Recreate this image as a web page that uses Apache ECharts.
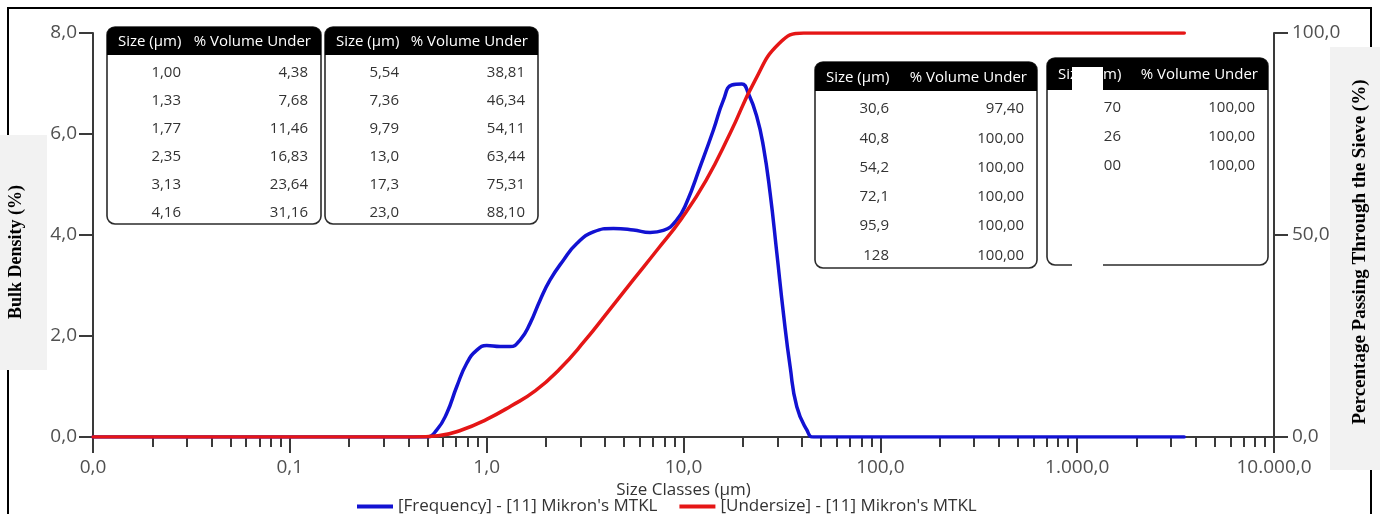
<!DOCTYPE html>
<html>
<head>
<meta charset="utf-8">
<script src="https://cdn.jsdelivr.net/npm/echarts@6/dist/echarts.min.js"></script>
<style>
  html, body { margin: 0; padding: 0; background: #fff; }
  #chart { width: 1380px; height: 514px; }
</style>
</head>
<body>
<div id="chart"></div>
<script>
// Size classes (µm) and cumulative % volume under, as listed in the result tables
const tableSizes = [1.00, 1.33, 1.77, 2.35, 3.13, 4.16, 5.54, 7.36, 9.79, 13.0, 17.3, 23.0,
                    30.6, 40.8, 54.2, 72.1, 95.9, 128, 170, 226, 300];
const tableUnder = [4.38, 7.68, 11.46, 16.83, 23.64, 31.16, 38.81, 46.34, 54.11, 63.44, 75.31, 88.10,
                    97.40, 100, 100, 100, 100, 100, 100, 100, 100];

// Undersize curve below the first tabulated class and at the top of the range
const undersizeLowSizes = [0.01, 0.425, 0.566, 0.752];
const undersizeLowValues = [0, 0, 0.3, 1.8];
const undersizeEndSizes = [3500];
const undersizeEndValues = [100];

// Frequency curve (bulk density, %)
const freqSizes = [0.01, 0.45, 0.496, 0.558, 0.627, 0.705, 0.792, 0.891, 1.00, 1.17,
                   1.315, 1.478, 1.662, 1.868, 2.10, 2.453, 2.870, 3.485, 4.404, 5.566,
                   6.766, 7.905, 9.246, 10.39, 12.14, 14.19, 15.95, 17.60, 19.78, 21.37,
                   23.58, 25.47, 27.54, 29.80, 32.18, 34.82, 37.64, 42.32, 45.73, 3500];
const freqValues = [0, 0, 0, 0.14, 0.47, 1.00, 1.46, 1.72, 1.81, 1.79,
                    1.79, 1.92, 2.25, 2.71, 3.11, 3.50, 3.83, 4.06, 4.13, 4.10,
                    4.05, 4.09, 4.30, 4.65, 5.35, 6.08, 6.67, 6.97, 6.99, 6.80,
                    6.34, 5.75, 4.83, 3.64, 2.45, 1.39, 0.60, 0.14, 0, 0];

// Axis ticks
const xMajorTicks = [0.01, 0.1, 1, 10, 100, 1000, 10000];
const xMinorSteps = [2, 3, 4, 5, 6, 7, 8, 9];
const leftTicks = [0, 2, 4, 6, 8];
const rightTicks = [0, 50, 100];

const seriesNames = ["[Frequency] - [11] Mikron's MTKL", "[Undersize] - [11] Mikron's MTKL"];
const sizeHeader = 'Size (µm)';
const underHeader = '% Volume Under';

const FONT = '"Open Sans", "Noto Sans", sans-serif';
const SERIF = '"Liberation Serif", "DejaVu Serif", serif';
const AXIS_COLOR = '#3a3a3a';
const LABEL_COLOR = '#505050';
const TABLE_FONT = '15px ' + FONT;

// number formatting with decimal comma and dot thousands separator
function fmtNum(v, dec) {
  const s = Math.abs(v).toFixed(dec);
  let [ip, fp] = s.split('.');
  ip = ip.replace(/\B(?=(\d{3})+(?!\d))/g, '.');
  return (v < 0 ? '-' : '') + ip + (fp !== undefined ? ',' + fp : '');
}
const fmtSize = v => v.toPrecision(3).replace('.', ',');

const xMinorTicks = [];
xMajorTicks.slice(0, -1).forEach(d => xMinorSteps.forEach(k => xMinorTicks.push(+(d * k).toPrecision(6))));

const freqData = freqSizes.map((s, i) => [s, freqValues[i]]);
const undersizeData = []
  .concat(undersizeLowSizes.map((s, i) => [s, undersizeLowValues[i]]))
  .concat(tableSizes.map((s, i) => [s, tableUnder[i]]))
  .concat(undersizeEndSizes.map((s, i) => [s, undersizeEndValues[i]]));

// Result table drawn as a group of graphic elements
function table(x, y, w, h, headH, rowY0, rowStep, sizes, values) {
  const children = [
    { type: 'rect', shape: { x: 0, y: 0, width: w, height: h, r: 8 },
      style: { fill: '#fff', stroke: '#2b2b2b', lineWidth: 1.6 } },
    { type: 'rect', shape: { x: 0, y: 0, width: w, height: headH, r: [8, 8, 0, 0] },
      style: { fill: '#000' } },
    { type: 'text', style: { x: 11, y: headH / 2 + 1, text: sizeHeader, fill: '#fff',
      font: TABLE_FONT, align: 'left', verticalAlign: 'middle' } },
    { type: 'text', style: { x: w - 10, y: headH / 2 + 1, text: underHeader, fill: '#fff',
      font: TABLE_FONT, align: 'right', verticalAlign: 'middle' } }
  ];
  sizes.forEach((s, i) => {
    const yy = rowY0 + i * rowStep;
    children.push({ type: 'text', style: { x: 74, y: yy, text: fmtSize(s), fill: '#333',
      font: TABLE_FONT, align: 'right', verticalAlign: 'middle' } });
    children.push({ type: 'text', style: { x: w - 13, y: yy, text: fmtNum(values[i], 2), fill: '#333',
      font: TABLE_FONT, align: 'right', verticalAlign: 'middle' } });
  });
  return { type: 'group', x: x, y: y, z: 100, children: children };
}

const chart = echarts.init(document.getElementById('chart'), null, { renderer: 'canvas' });

const axisLine = { show: true, lineStyle: { color: AXIS_COLOR, width: 2 } };
const tickLabel = { fontSize: 19, color: LABEL_COLOR, fontFamily: FONT, formatter: v => fmtNum(v, 1) };

chart.setOption({
  animation: false,
  backgroundColor: '#fff',
  textStyle: { fontFamily: FONT },
  grid: { left: 93, right: 106, top: 33, bottom: 77, containLabel: false },
  legend: {
    data: seriesNames,
    left: 352, top: 493,
    icon: 'rect', itemWidth: 36, itemHeight: 4, itemGap: 22,
    textStyle: { fontSize: 17, color: '#333', fontFamily: FONT }
  },
  xAxis: [
    {
      type: 'log', logBase: 10, min: 0.01, max: 10000, position: 'bottom',
      axisLine: axisLine,
      axisTick: { show: true, inside: false, length: 16, customValues: xMajorTicks,
                  lineStyle: { color: AXIS_COLOR, width: 2 } },
      axisLabel: Object.assign({ customValues: xMajorTicks, margin: 21 }, tickLabel),
      splitLine: { show: false }, minorTick: { show: false },
      name: 'Size Classes (µm)', nameLocation: 'middle', nameGap: 37,
      nameTextStyle: { fontSize: 17, color: '#333', fontFamily: FONT }
    },
    {
      type: 'log', logBase: 10, min: 0.01, max: 10000, position: 'bottom',
      axisLine: { show: false },
      axisTick: { show: true, inside: false, length: 10, customValues: xMinorTicks,
                  lineStyle: { color: AXIS_COLOR, width: 2 } },
      axisLabel: { show: false },
      splitLine: { show: false }
    }
  ],
  yAxis: [
    {
      type: 'value', min: 0, max: 8, position: 'left',
      axisLine: axisLine,
      axisTick: { show: true, inside: false, length: 14, customValues: leftTicks,
                  lineStyle: { color: AXIS_COLOR, width: 2 } },
      axisLabel: Object.assign({ customValues: leftTicks, margin: 16 }, tickLabel),
      splitLine: { show: false }
    },
    {
      type: 'value', min: 0, max: 100, position: 'right',
      axisLine: axisLine,
      axisTick: { show: true, inside: false, length: 14, customValues: rightTicks,
                  lineStyle: { color: AXIS_COLOR, width: 2 } },
      axisLabel: Object.assign({ customValues: rightTicks, margin: 18 }, tickLabel),
      splitLine: { show: false }
    }
  ],
  series: [
    {
      name: seriesNames[0], type: 'line', xAxisIndex: 0, yAxisIndex: 0,
      data: freqData, smooth: 0.5, showSymbol: false, symbol: 'none',
      color: '#1212d2',
      lineStyle: { color: '#1212d2', width: 3.5, cap: 'round', join: 'round' },
      z: 3
    },
    {
      name: seriesNames[1], type: 'line', xAxisIndex: 0, yAxisIndex: 1,
      data: undersizeData, smooth: 0.5, showSymbol: false, symbol: 'none',
      color: '#e51616',
      lineStyle: { color: '#e51616', width: 3.5, cap: 'round', join: 'round' },
      z: 4
    }
  ],
  graphic: { elements: [
    // outer frame
    { type: 'line', z: 50, shape: { x1: 7, y1: 8, x2: 1372, y2: 8 }, style: { stroke: '#000', lineWidth: 2 } },
    { type: 'line', z: 50, shape: { x1: 8, y1: 8, x2: 8, y2: 514 }, style: { stroke: '#000', lineWidth: 2 } },
    { type: 'line', z: 50, shape: { x1: 1371, y1: 8, x2: 1371, y2: 514 }, style: { stroke: '#000', lineWidth: 2 } },
    // axis title panels
    { type: 'rect', z: 60, shape: { x: 0, y: 135, width: 47, height: 235 }, style: { fill: '#f2f2f2' } },
    { type: 'rect', z: 60, shape: { x: 1330, y: 47, width: 50, height: 423 }, style: { fill: '#f2f2f2' } },
    { type: 'text', z: 61, x: 16, y: 252, rotation: Math.PI / 2,
      style: { x: 0, y: 0, text: 'Bulk Density (%)', fill: '#000', font: 'bold 18px ' + SERIF,
               align: 'center', verticalAlign: 'middle' } },
    { type: 'text', z: 61, x: 1360, y: 252, rotation: Math.PI / 2,
      style: { x: 0, y: 0, text: 'Percentage Passing Through the Sieve (%)', fill: '#000',
               font: 'bold 19px ' + SERIF, align: 'center', verticalAlign: 'middle' } },
    // result tables
    table(107, 27, 214, 197, 28, 46, 28, tableSizes.slice(0, 6), tableUnder.slice(0, 6)),
    table(325, 27, 213, 197, 28, 46, 28, tableSizes.slice(6, 12), tableUnder.slice(6, 12)),
    table(815, 62, 222, 206, 29, 47, 29.3, tableSizes.slice(12, 18), tableUnder.slice(12, 18)),
    table(1047, 58, 221, 207, 32, 50, 29, tableSizes.slice(18, 21), tableUnder.slice(18, 21)),
    // white patch over the last table
    { type: 'rect', z: 120, shape: { x: 1072, y: 67, width: 31, height: 203 }, style: { fill: '#fff' } }
  ] }
});
</script>
</body>
</html>
